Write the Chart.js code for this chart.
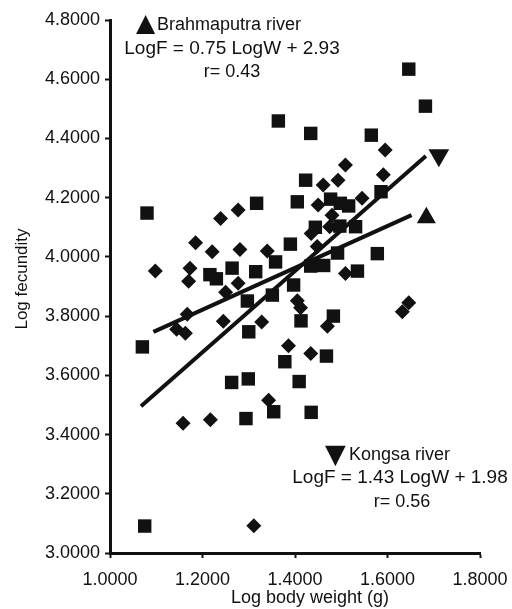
<!DOCTYPE html>
<html>
<head>
<meta charset="utf-8">
<script src="https://cdn.jsdelivr.net/npm/chart.js@4"></script>
<style>
  html, body { margin: 0; padding: 0; background: #fff; }
  #wrap { width: 512px; height: 609px; position: relative; }
</style>
</head>
<body>
<div id="wrap"><canvas id="fecundityChart"></canvas></div>
<script>
// ---- data ----
// squares (one river sample)
const squareX = [1.075, 1.070, 1.080, 1.317, 1.216, 1.230, 1.264, 1.315, 1.297, 1.300,
                 1.263, 1.299, 1.294, 1.378, 1.468, 1.409, 1.354, 1.435, 1.413, 1.483,
                 1.397, 1.351, 1.358, 1.390, 1.434, 1.462, 1.492, 1.578, 1.535, 1.405,
                 1.477, 1.498, 1.516, 1.444, 1.497, 1.531, 1.423, 1.586, 1.364, 1.434,
                 1.565, 1.646, 1.682];
const squareY = [3.091, 3.696, 4.148, 4.181, 3.940, 3.926, 3.962, 3.950, 3.851, 3.747,
                 3.576, 3.588, 3.454, 3.646, 3.665, 3.579, 3.477, 3.475, 3.784, 3.800,
                 3.905, 3.871, 3.983, 4.043, 3.969, 3.971, 4.013, 4.011, 3.952, 4.186,
                 4.195, 4.181, 4.172, 4.100, 4.104, 4.102, 4.259, 4.220, 4.459, 4.417,
                 4.411, 4.634, 4.509];
// diamonds (the other river sample)
const diamondX = [1.239, 1.277, 1.185, 1.221, 1.281, 1.098, 1.173, 1.170, 1.250, 1.277,
                  1.167, 1.144, 1.163, 1.245, 1.328, 1.158, 1.217, 1.311, 1.343, 1.340,
                  1.448, 1.509, 1.405, 1.412, 1.470, 1.646, 1.632, 1.386, 1.434, 1.595,
                  1.509, 1.591, 1.461, 1.493, 1.450, 1.545, 1.480, 1.435, 1.475];
const diamondY = [4.130, 4.158, 4.048, 4.017, 4.025, 3.952, 3.962, 3.918, 3.881, 3.911,
                  3.806, 3.756, 3.742, 3.783, 3.780, 3.438, 3.450, 3.092, 3.516, 4.020,
                  4.035, 3.944, 3.852, 3.828, 3.766, 3.845, 3.815, 3.700, 3.674, 4.361,
                  4.310, 4.277, 4.243, 4.259, 4.175, 4.198, 4.141, 4.079, 4.102];

// regression lines (end points as drawn)
const brahmaLineX = [1.094, 1.652];
const brahmaLineY = [3.747, 4.141];
const kongsaLineX = [1.067, 1.683];
const kongsaLineY = [3.496, 4.341];
// triangle markers at line ends
const brahmaEndX = [1.684];
const brahmaEndY = [4.132];
const kongsaEndX = [1.711];
const kongsaEndY = [4.343];

// text
const brahmaLabel = ['\u25B2', 'Brahmaputra river', 'LogF = 0.75 LogW + 2.93', 'r= 0.43'];
const kongsaLabel = ['\u25BC', 'Kongsa river', 'LogF = 1.43 LogW + 1.98', 'r= 0.56'];
const xTitle = 'Log body weight (g)';
const yTitle = 'Log fecundity';

const INK = '#111';
const FONT = '"Liberation Sans", Arial, "DejaVu Sans", sans-serif';

function pts(xs, ys) {
  return xs.map((x, i) => ({ x: x, y: ys[i] }));
}

// annotations and axis titles
const textPlugin = {
  id: 'figureText',
  afterDraw(chart) {
    const ctx = chart.ctx;
    ctx.save();
    ctx.fillStyle = INK;
    ctx.textBaseline = 'middle';

    // Brahmaputra block
    ctx.textAlign = 'left';
    ctx.font = '25px "DejaVu Sans", ' + FONT;
    ctx.fillText(brahmaLabel[0], 136, 24);
    ctx.font = '18px ' + FONT;
    ctx.fillText(brahmaLabel[1], 157, 25);
    ctx.textAlign = 'center';
    ctx.font = '19px ' + FONT;
    ctx.fillText(brahmaLabel[2], 232, 49);
    ctx.font = '18px ' + FONT;
    ctx.fillText(brahmaLabel[3], 232, 72);

    // Kongsa block
    ctx.textAlign = 'left';
    ctx.font = '27px "DejaVu Sans", ' + FONT;
    ctx.fillText(kongsaLabel[0], 325, 456);
    ctx.font = '18px ' + FONT;
    ctx.fillText(kongsaLabel[1], 349, 455);
    ctx.textAlign = 'center';
    ctx.font = '19px ' + FONT;
    ctx.fillText(kongsaLabel[2], 400, 478);
    ctx.font = '18px ' + FONT;
    ctx.fillText(kongsaLabel[3], 402, 502);

    // axis titles
    ctx.font = '18px ' + FONT;
    ctx.fillText(xTitle, 310, 598);
    ctx.translate(22, 279);
    ctx.rotate(-Math.PI / 2);
    ctx.font = '17px ' + FONT;
    ctx.fillText(yTitle, 0, 0);
    ctx.restore();
  }
};

const ctx = document.getElementById('fecundityChart').getContext('2d');
new Chart(ctx, {
  type: 'scatter',
  data: {
    datasets: [
      {
        label: 'squares',
        data: pts(squareX, squareY),
        pointStyle: 'rect',
        pointRadius: 9.5,
        backgroundColor: INK,
        borderWidth: 0
      },
      {
        label: 'diamonds',
        data: pts(diamondX, diamondY),
        pointStyle: 'rectRot',
        pointRadius: 7.5,
        backgroundColor: INK,
        borderWidth: 0
      },
      {
        label: 'Brahmaputra fit',
        data: pts(brahmaLineX, brahmaLineY),
        showLine: true,
        borderColor: INK,
        borderWidth: 4,
        pointRadius: 0
      },
      {
        label: 'Kongsa fit',
        data: pts(kongsaLineX, kongsaLineY),
        showLine: true,
        borderColor: INK,
        borderWidth: 4,
        pointRadius: 0
      },
      {
        label: 'Brahmaputra end',
        data: pts(brahmaEndX, brahmaEndY),
        pointStyle: 'triangle',
        pointRadius: 11,
        backgroundColor: INK,
        borderWidth: 0
      },
      {
        label: 'Kongsa end',
        data: pts(kongsaEndX, kongsaEndY),
        pointStyle: 'triangle',
        rotation: 180,
        pointRadius: 12,
        backgroundColor: INK,
        borderWidth: 0
      }
    ]
  },
  options: {
    responsive: true,
    maintainAspectRatio: false,
    animation: false,
    layout: { padding: { top: 20, right: 32, bottom: 0, left: 0 } },
    plugins: {
      legend: { display: false },
      tooltip: { enabled: false }
    },
    scales: {
      x: {
        type: 'linear',
        min: 1.0,
        max: 1.8,
        // fixed height, and don't let the last label push the plot edge in
        afterFit: (s) => { s.height = 56; s.paddingRight = 0; s.paddingLeft = 0; },
        border: { display: true, color: INK, width: 3 },
        grid: { drawOnChartArea: false, drawTicks: true, tickLength: 5, tickColor: INK, tickWidth: 2 },
        ticks: {
          stepSize: 0.2,
          padding: 11,
          color: INK,
          font: { family: FONT, size: 18 },
          callback: (v) => Number(v).toFixed(4)
        }
      },
      y: {
        type: 'linear',
        min: 3.0,
        max: 4.8,
        afterFit: (s) => { s.width = 110; },
        border: { display: true, color: INK, width: 3 },
        grid: { drawOnChartArea: false, drawTicks: true, tickLength: 5, tickColor: INK, tickWidth: 2 },
        ticks: {
          stepSize: 0.2,
          padding: 5,
          color: INK,
          font: { family: FONT, size: 18 },
          callback: (v) => Number(v).toFixed(4)
        }
      }
    }
  },
  plugins: [textPlugin]
});
</script>
</body>
</html>
